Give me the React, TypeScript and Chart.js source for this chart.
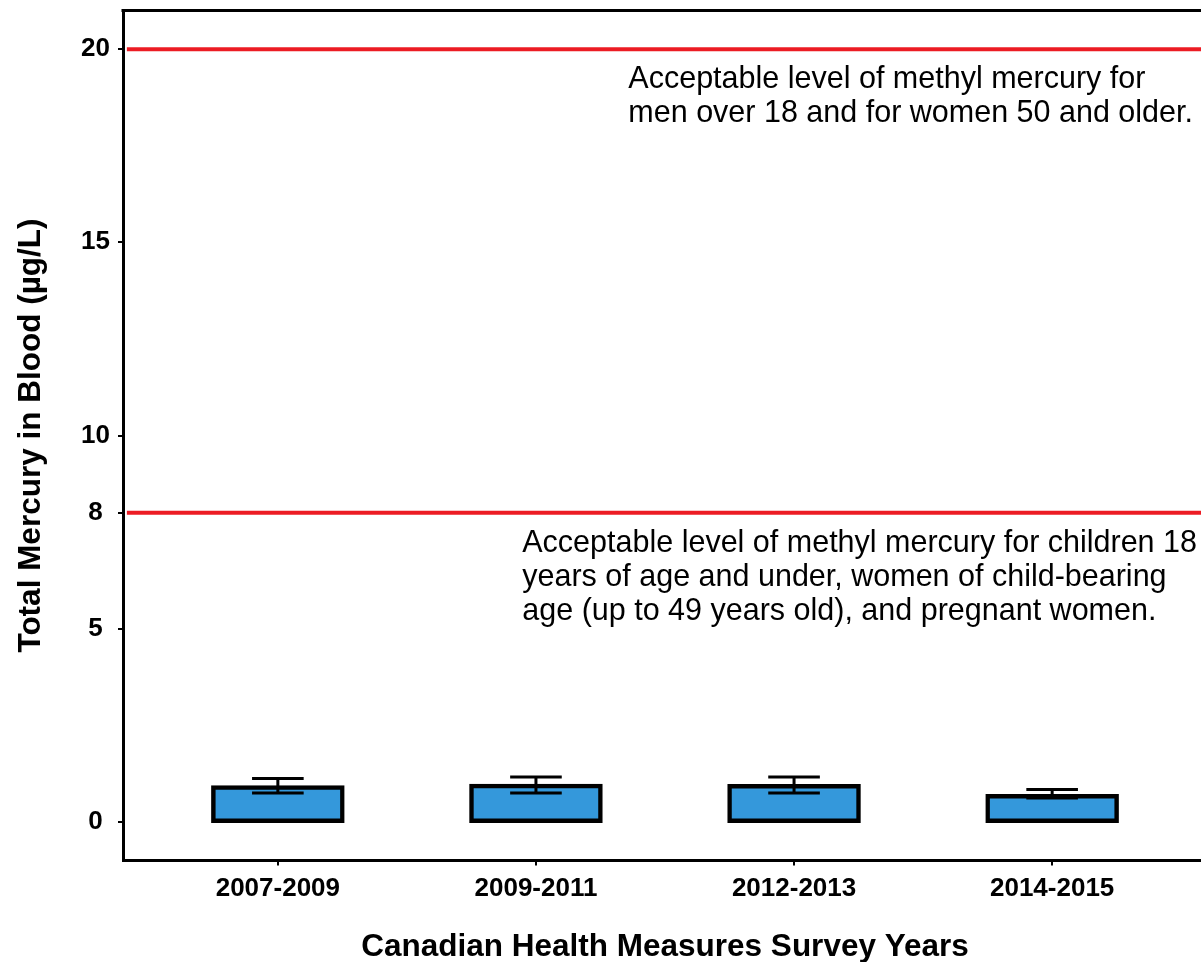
import React, { useEffect, useRef } from "react";
import { Chart, registerables } from "chart.js";

Chart.register(...registerables);

// Survey cycles and blood mercury summary (µg/L)
const surveyYears = ["2007-2009", "2009-2011", "2012-2013", "2014-2015"];
const meanMercury = [0.89, 0.93, 0.92, 0.66];
const upperMercury = [1.12, 1.16, 1.16, 0.84];
const lowerMercury = [0.75, 0.75, 0.75, 0.62];

// Y axis tick values
const yTickValues = [0, 5, 8, 10, 15, 20];

// Guideline levels (µg/L) and their notes
const guidelineLevels = [20, 8];
const guidelineNotes = [
  ["Acceptable level of methyl mercury for", "men over 18 and for women 50 and older."],
  [
    "Acceptable level of methyl mercury for children 18",
    "years of age and under, women of child-bearing",
    "age (up to 49 years old), and pregnant women.",
  ],
];

// Note anchors in data units: left edge (category units) and block centre (µg/L)
const noteAnchors = [
  { x: 2.358, y: 18.76 },
  { x: 1.947, y: 6.33 },
];

const FONT = '"Liberation Sans", Arial, sans-serif';

const overlayPlugin = {
  id: "overlay",
  beforeDatasetsDraw(chart: any) {
    const { ctx, chartArea, scales } = chart;
    const xs = scales.x;
    const ys = scales.y;
    ctx.save();
    ctx.strokeStyle = "#EC1C24";
    ctx.lineWidth = 4;
    ctx.lineCap = "butt";
    guidelineLevels.forEach((level) => {
      const py = ys.getPixelForValue(level);
      ctx.beginPath();
      ctx.moveTo(xs.getPixelForValue(0.415), py);
      ctx.lineTo(chartArea.right, py);
      ctx.stroke();
    });
    ctx.restore();
  },
  afterDatasetsDraw(chart: any) {
    const { ctx, scales } = chart;
    const xs = scales.x;
    const ys = scales.y;
    ctx.save();
    ctx.strokeStyle = "#000";
    ctx.lineWidth = 3;
    ctx.lineCap = "butt";
    surveyYears.forEach((_, i) => {
      const cx = xs.getPixelForValue(i + 1);
      const half = xs.getPixelForValue(i + 1.1) - cx;
      const yu = ys.getPixelForValue(upperMercury[i]);
      const yl = ys.getPixelForValue(lowerMercury[i]);
      ctx.beginPath();
      ctx.moveTo(cx, yu);
      ctx.lineTo(cx, yl);
      ctx.moveTo(cx - half, yu);
      ctx.lineTo(cx + half, yu);
      ctx.moveTo(cx - half, yl);
      ctx.lineTo(cx + half, yl);
      ctx.stroke();
    });
    ctx.restore();
  },
  afterDraw(chart: any) {
    const { ctx, chartArea, scales } = chart;
    const xs = scales.x;
    const ys = scales.y;
    ctx.save();
    // panel frame (top and right)
    ctx.strokeStyle = "#000";
    ctx.lineWidth = 3;
    ctx.beginPath();
    ctx.moveTo(chartArea.left - 1.5, chartArea.top);
    ctx.lineTo(chartArea.right, chartArea.top);
    ctx.lineTo(chartArea.right, chartArea.bottom);
    ctx.stroke();
    // guideline notes
    ctx.fillStyle = "#000";
    ctx.font = `30.5px ${FONT}`;
    ctx.textAlign = "left";
    ctx.textBaseline = "middle";
    const lineH = 34;
    guidelineNotes.forEach((lines, k) => {
      const px = xs.getPixelForValue(noteAnchors[k].x);
      const pc = ys.getPixelForValue(noteAnchors[k].y);
      const top = pc - ((lines.length - 1) * lineH) / 2;
      lines.forEach((t, j) => ctx.fillText(t, px, top + j * lineH));
    });
    ctx.restore();
  },
};

export default function App() {
  const ref = useRef<HTMLCanvasElement | null>(null);

  useEffect(() => {
    if (!ref.current) return;
    Chart.defaults.font.family = FONT;
    Chart.defaults.color = "#000";
    const chart = new Chart(ref.current, {
      type: "bar",
      data: {
        datasets: [
          {
            data: meanMercury.map((v, i) => ({ x: i + 1, y: v })),
            backgroundColor: "#3498DB",
            borderColor: "#000",
            // outline straddles the bar edge: half inside, half outside
            borderWidth: 4.5,
            inflateAmount: 2.25,
            borderSkipped: false,
            categoryPercentage: 1,
            barPercentage: 0.5,
          },
        ],
      },
      options: {
        responsive: false,
        animation: false,
        layout: { padding: { top: 10.5, right: 5, left: 0, bottom: 0 } },
        plugins: { legend: { display: false }, tooltip: { enabled: false } },
        scales: {
          x: {
            type: "linear",
            min: 0.4,
            max: 4.6,
            offset: false,
            afterBuildTicks: (s: any) => {
              s.ticks = surveyYears.map((_, i) => ({ value: i + 1 }));
            },
            afterFit: (s: any) => {
              s.height = 101.5;
              s.paddingLeft = 0;
              s.paddingRight = 0;
            },
            ticks: {
              callback: (v: any) => surveyYears[Math.round(v) - 1] ?? "",
              font: { size: 26, weight: "bold" },
              padding: 8,
              maxRotation: 0,
              autoSkip: false,
            },
            grid: {
              offset: false,
              drawOnChartArea: false,
              drawTicks: true,
              tickLength: 5,
              lineWidth: 2,
              color: "#000",
            },
            border: { display: true, width: 3, color: "#000" },
            title: {
              display: true,
              text: "Canadian Health Measures Survey Years",
              font: { size: 31.5, weight: "bold" },
              padding: { top: 0, bottom: -4 },
            },
          },
          y: {
            type: "linear",
            min: -1,
            max: 21,
            afterBuildTicks: (s: any) => {
              s.ticks = yTickValues.map((v) => ({ value: v }));
            },
            afterFit: (s: any) => {
              s.width = 123;
              s.paddingTop = 0;
              s.paddingBottom = 0;
            },
            ticks: {
              font: { size: 26, weight: "bold" },
              padding: 8,
              crossAlign: "center",
            },
            grid: { drawOnChartArea: false, drawTicks: true, tickLength: 5, lineWidth: 2, color: "#000" },
            border: { display: true, width: 3, color: "#000" },
            title: {
              display: true,
              text: "Total Mercury in Blood (µg/L)",
              font: { size: 31.5, weight: "bold" },
              padding: { top: 12, bottom: 0 },
            },
          },
        },
      },
      plugins: [overlayPlugin],
    } as any);
    return () => chart.destroy();
  }, []);

  return (
    <div
      style={{
        position: "fixed",
        left: 0,
        top: 0,
        width: 1201,
        height: 962,
        overflow: "hidden",
        background: "#fff",
      }}
    >
      <canvas ref={ref} width={1212} height={962} style={{ width: 1212, height: 962, display: "block" }} />
    </div>
  );
}
